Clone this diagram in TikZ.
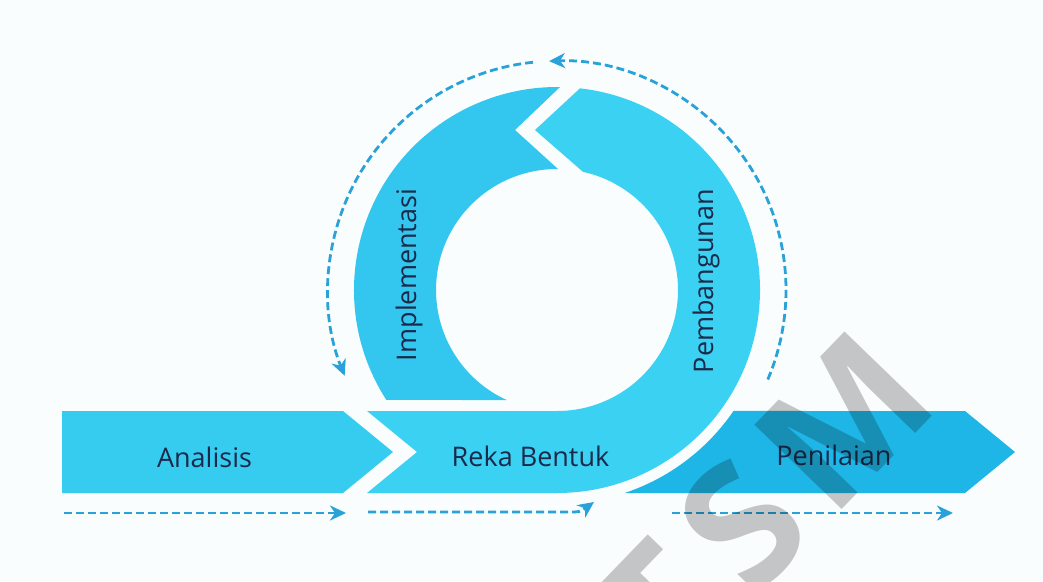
\documentclass[tikz,border=0pt]{standalone}
\usepackage{fontspec}
\setmainfont{Open Sans}
\newfontfamily\wmfont{Open Sans}
\usetikzlibrary{arrows.meta,calc}
\definecolor{bgc}{HTML}{FAFDFE}
\definecolor{anac}{HTML}{36CCF0}
\definecolor{rekac}{HTML}{3AD1F3}
\definecolor{implc}{HTML}{33C6EE}
\definecolor{penic}{HTML}{1EB6E7}
\definecolor{dashc}{HTML}{28A2D8}
\definecolor{txtc}{HTML}{1B2A4A}
\tikzset{
  lbl/.style={text=txtc, font=\fontsize{27}{32}\selectfont, inner sep=0pt, anchor=base},
  flow/.style={draw=dashc, line width=2.8pt, dash pattern=on 8pt off 4pt,
    -{Stealth[length=16pt,width=15pt,inset=5pt]}},
  wm/.style={text=black, text opacity=0.22, font=\wmfont\bfseries\fontsize{170}{170}\selectfont,
    inner sep=0pt, anchor=base west, rotate=46}
}
\begin{document}
\begin{tikzpicture}[x=1pt,y=-1pt]
\useasboundingbox (0,0) rectangle (1043,581);
\fill[bgc] (0,0) rectangle (1043,581);
\clip (0,0) rectangle (1043,581);
\coordinate (C) at (557,290);
% Analisis
\fill[anac] (62,411) -- (343,411) -- (393,452) -- (343,493) -- (62,493) -- cycle;
% Penilaian
\fill[penic] ([shift={(34.43:214)}]C) -- (965,411) -- (1015,452) -- (965,493)
  -- ([shift={(71.55:214)}]C) arc[start angle=71.55, end angle=34.43, radius=214] -- cycle;
% Reka Bentuk + Pembangunan
\fill[rekac] (367,411) -- (557,411) arc[start angle=90, end angle=-77.6, radius=121]
  -- (535,130) -- ([shift={(-83.5:203)}]C) arc[start angle=-83.5, end angle=90, radius=203]
  -- (367,493) -- (417,452) -- cycle;
% Implementasi
\fill[implc] ([shift={(114.6:121)}]C) -- ([shift={(147.2:203)}]C)
  arc[start angle=147.2, end angle=270.85, radius=203]
  -- (515,130) -- ([shift={(270.5:121)}]C)
  arc[start angle=270.5, end angle=114.6, radius=121] -- cycle;
% labels
\node[lbl] (ana) at (204.5,467) {Analisis};
\node[lbl] (reka) at (530.5,466) {Reka Bentuk};
\node[lbl] (peni) at (834,465) {Penilaian};
\node[lbl, rotate=90] (impl) at (416,275) {Implementasi};
\node[lbl, rotate=90] (pemb) at (713,281) {Pembangunan};
% dashed flows
\coordinate (a1) at (64,513);
\coordinate (a2) at (346,513);
\coordinate (b1) at (368,512);
\coordinate (b2) at (568,512);
\coordinate (b3) at (594,502);
\coordinate (c1) at (672,513);
\coordinate (c2) at (953,513);
\draw[flow] (a1) -- (a2);
\draw[flow] (b1) -- (b2) .. controls (580,512) .. (b3);
\draw[flow] (c1) -- (c2);
\coordinate (l1) at ([shift={(264:229)}]C);
\coordinate (r1) at ([shift={(23:229)}]C);
\draw[flow] (l1) arc[start angle=264, end angle=158, radius=229];
\draw[flow] (r1) arc[start angle=23, end angle=-92, radius=229];
% watermark
\node[wm] (mark) at (669,688) {T\kern23pt S\kern18pt M};
\end{tikzpicture}
\end{document}
